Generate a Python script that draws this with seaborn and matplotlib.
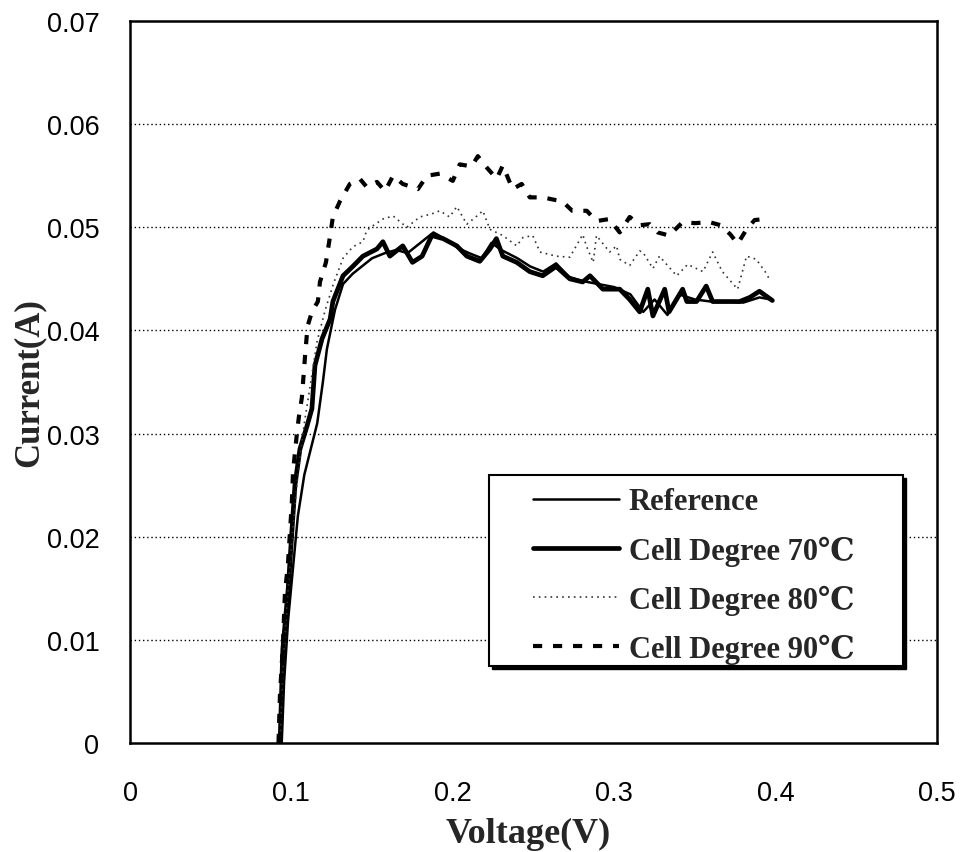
import numpy as np
import pandas as pd
import matplotlib
matplotlib.use("Agg")
import matplotlib.pyplot as plt
from matplotlib.patches import Rectangle
import seaborn as sns

# ---- data ----
v_ref = [0.094, 0.0955, 0.098, 0.101, 0.104, 0.108, 0.112, 0.116, 0.1195, 0.122, 0.127, 0.132,
         0.138, 0.150, 0.158, 0.165, 0.172, 0.180, 0.188, 0.196, 0.203, 0.210, 0.218, 0.224,
         0.230, 0.240, 0.248, 0.256, 0.264, 0.272, 0.280, 0.290, 0.300, 0.310, 0.318, 0.325,
         0.333, 0.340, 0.350, 0.360, 0.370, 0.380, 0.390, 0.397]
i_ref = [0.0, 0.006, 0.012, 0.017, 0.022, 0.026, 0.0285, 0.031, 0.035, 0.0382, 0.042, 0.0445,
         0.0455, 0.047, 0.0475, 0.0478, 0.0475, 0.0485, 0.0495, 0.0488, 0.048, 0.0475, 0.047, 0.0485,
         0.0478, 0.047, 0.0462, 0.0457, 0.0465, 0.0452, 0.0448, 0.0445, 0.0442, 0.0435, 0.0418, 0.043,
         0.0415, 0.0435, 0.043, 0.0428, 0.0428, 0.0427, 0.0432, 0.043]

v_70 = [0.093, 0.0947, 0.098, 0.1003, 0.1022, 0.1053, 0.1096, 0.1127, 0.1146, 0.119, 0.124, 0.1257,
        0.132, 0.138, 0.1443, 0.153, 0.1567, 0.161, 0.169, 0.175, 0.181, 0.187, 0.194, 0.2025,
        0.2087, 0.2167, 0.223, 0.227, 0.231, 0.2396, 0.2477, 0.2557, 0.264, 0.2725, 0.2805, 0.285,
        0.293, 0.3034, 0.3096, 0.3158, 0.3208, 0.324, 0.3313, 0.334, 0.3424, 0.345, 0.351, 0.357,
        0.361, 0.370, 0.3777, 0.384, 0.390, 0.398]
i_70 = [0.0, 0.0091, 0.0149, 0.0205, 0.025, 0.0285, 0.0307, 0.0324, 0.0366, 0.0392, 0.0411, 0.0428,
        0.0453, 0.0462, 0.0472, 0.0479, 0.0486, 0.0472, 0.0482, 0.0466, 0.0472, 0.0492, 0.0489, 0.0482,
        0.0472, 0.0467, 0.0479, 0.0489, 0.0472, 0.0466, 0.0457, 0.0453, 0.0462, 0.045, 0.0447, 0.0453,
        0.044, 0.044, 0.043, 0.0418, 0.044, 0.0414, 0.044, 0.0418, 0.044, 0.0428, 0.0428, 0.0443,
        0.0428, 0.0428, 0.0428, 0.0432, 0.0438, 0.0429]

v_80 = [0.093, 0.095, 0.098, 0.101, 0.104, 0.108, 0.112, 0.116, 0.121, 0.126, 0.132, 0.138,
        0.1443, 0.1467, 0.150, 0.1567, 0.163, 0.1715, 0.1796, 0.187, 0.192, 0.198, 0.2025, 0.2087,
        0.215, 0.2186, 0.223, 0.231, 0.2396, 0.2434, 0.2495, 0.254, 0.264, 0.2725, 0.2805, 0.283,
        0.287, 0.289, 0.2972, 0.3015, 0.3034, 0.3096, 0.3158, 0.3177, 0.324, 0.328, 0.3387, 0.3455,
        0.355, 0.361, 0.367, 0.3765, 0.382, 0.388, 0.3944, 0.396]
i_80 = [0.0, 0.008, 0.015, 0.021, 0.026, 0.031, 0.035, 0.039, 0.042, 0.0445, 0.047, 0.0481,
        0.0486, 0.0497, 0.0501, 0.0508, 0.0511, 0.050, 0.051, 0.0513, 0.0516, 0.051, 0.052, 0.0503,
        0.0511, 0.0516, 0.0498, 0.0492, 0.0482, 0.049, 0.0492, 0.0476, 0.0472, 0.0471, 0.0493, 0.0481,
        0.0466, 0.0492, 0.0476, 0.0482, 0.0469, 0.0463, 0.0477, 0.0476, 0.046, 0.0472, 0.0453, 0.0464,
        0.0457, 0.0476, 0.0457, 0.044, 0.0472, 0.0469, 0.0455, 0.045]

v_90 = [0.092, 0.0929, 0.0947, 0.096, 0.0978, 0.1003, 0.101, 0.1034, 0.1047, 0.1065, 0.1084, 0.110,
        0.1127, 0.1164, 0.1177, 0.1214, 0.124, 0.1257, 0.130, 0.1362, 0.1424, 0.1467, 0.153, 0.158,
        0.163, 0.169, 0.1784, 0.184, 0.192, 0.200, 0.2043, 0.2117, 0.2155, 0.221, 0.2272, 0.231,
        0.237, 0.2427, 0.2477, 0.2557, 0.268, 0.274, 0.283, 0.289, 0.297, 0.3034, 0.3096, 0.316,
        0.322, 0.327, 0.334, 0.3424, 0.350, 0.359, 0.366, 0.372, 0.3765, 0.382, 0.387, 0.393]
i_90 = [0.0, 0.0046, 0.0094, 0.0146, 0.0172, 0.0234, 0.0263, 0.030, 0.0317, 0.0335, 0.0374, 0.0404,
        0.0418, 0.0428, 0.0447, 0.0466, 0.0492, 0.051, 0.0525, 0.0542, 0.0547, 0.0539, 0.0544, 0.0535,
        0.055, 0.0542, 0.0537, 0.055, 0.0552, 0.0545, 0.0561, 0.0559, 0.0569, 0.0558, 0.0547, 0.056,
        0.0537, 0.0542, 0.0529, 0.0529, 0.0525, 0.0516, 0.0516, 0.0506, 0.0508, 0.0495, 0.051, 0.0502,
        0.0503, 0.0495, 0.0492, 0.0505, 0.0504, 0.0505, 0.0502, 0.0493, 0.0484, 0.0498, 0.0507, 0.0508]

series_labels = ["Reference", "Cell Degree 70\u2103", "Cell Degree 80\u2103", "Cell Degree 90\u2103"]
x_ticks = [0, 0.1, 0.2, 0.3, 0.4, 0.5]
x_tick_labels = ["0", "0.1", "0.2", "0.3", "0.4", "0.5"]
y_ticks = [0, 0.01, 0.02, 0.03, 0.04, 0.05, 0.06, 0.07]
y_tick_labels = ["0", "0.01", "0.02", "0.03", "0.04", "0.05", "0.06", "0.07"]

sns.set_theme(style="white")
plt.rcParams['font.family'] = ['Liberation Sans Narrow', 'Liberation Sans', 'DejaVu Sans']

fig = plt.figure(figsize=(9.64, 8.53), dpi=100)
ax = fig.add_axes([130/964, 1 - 744/853, 807/964, 722/853])

styles = [
    dict(color="black", linewidth=1.8, linestyle="-"),
    dict(color="black", linewidth=3.4, linestyle="-"),
    dict(color="#333333", linewidth=1.2, linestyle=(0, (1, 2.5))),
    dict(color="black", linewidth=3.0, linestyle=(0, (2.2, 2.6))),
]
data = [(v_ref, i_ref), (v_70, i_70), (v_80, i_80), (v_90, i_90)]
for (vx, iy), lab, st in zip(data, series_labels, styles):
    df = pd.DataFrame({"V": vx, "I": iy})
    sns.lineplot(data=df, x="V", y="I", ax=ax, label=lab, sort=False, **st)

ax.set_xlim(0, 0.5)
ax.set_ylim(0, 0.07)
ax.set_xticks(x_ticks)
ax.set_xticklabels(x_tick_labels)
ax.set_yticks(y_ticks)
ax.set_yticklabels(y_tick_labels)
for yv in y_ticks[1:-1]:
    ax.axhline(yv, color="black", linewidth=1.0, linestyle=(0, (1, 2)), zorder=0)

for s in ax.spines.values():
    s.set_color("black")
    s.set_linewidth(1.8)
    s.set_visible(True)

ax.tick_params(axis="x", direction="in", length=6, width=1.2, pad=27, labelsize=19.5, colors="black")
ax.tick_params(axis="y", direction="inout", length=8, width=1.2, pad=18, labelsize=19.5, colors="black")

label_font = dict(family=['Liberation Serif', 'DejaVu Serif'], weight="bold", size=26)
ax.set_xlabel("Voltage(V)", fontdict=label_font)
ax.set_ylabel("Current(A)", fontdict=dict(label_font, size=25))
ax.xaxis.set_label_coords(0.494, -0.125)
ax.xaxis.label.set_va("center")
ax.yaxis.set_label_coords(-0.125, 0.50)
ax.yaxis.label.set_va("center")

# legend frame with shadow
shadow = Rectangle((0.449, 0.1026), 0.513, 0.2645, transform=ax.transAxes,
                   facecolor="black", edgecolor="black", zorder=4)
box = Rectangle((0.445, 0.1066), 0.513, 0.2645, transform=ax.transAxes,
                facecolor="white", edgecolor="black", linewidth=1.5, zorder=4.5)
ax.add_patch(shadow)
ax.add_patch(box)

leg = ax.legend(loc="upper left", bbox_to_anchor=(0.4994, 0.354),
                prop=dict(family=['Liberation Serif', 'DejaVu Serif'], weight="bold", size=22),
                frameon=False, handlelength=2.8, handletextpad=0.33, labelspacing=0.62,
                borderpad=0, borderaxespad=0)
leg.set_zorder(6)

fig.savefig("out.png", dpi=100, facecolor="white")
